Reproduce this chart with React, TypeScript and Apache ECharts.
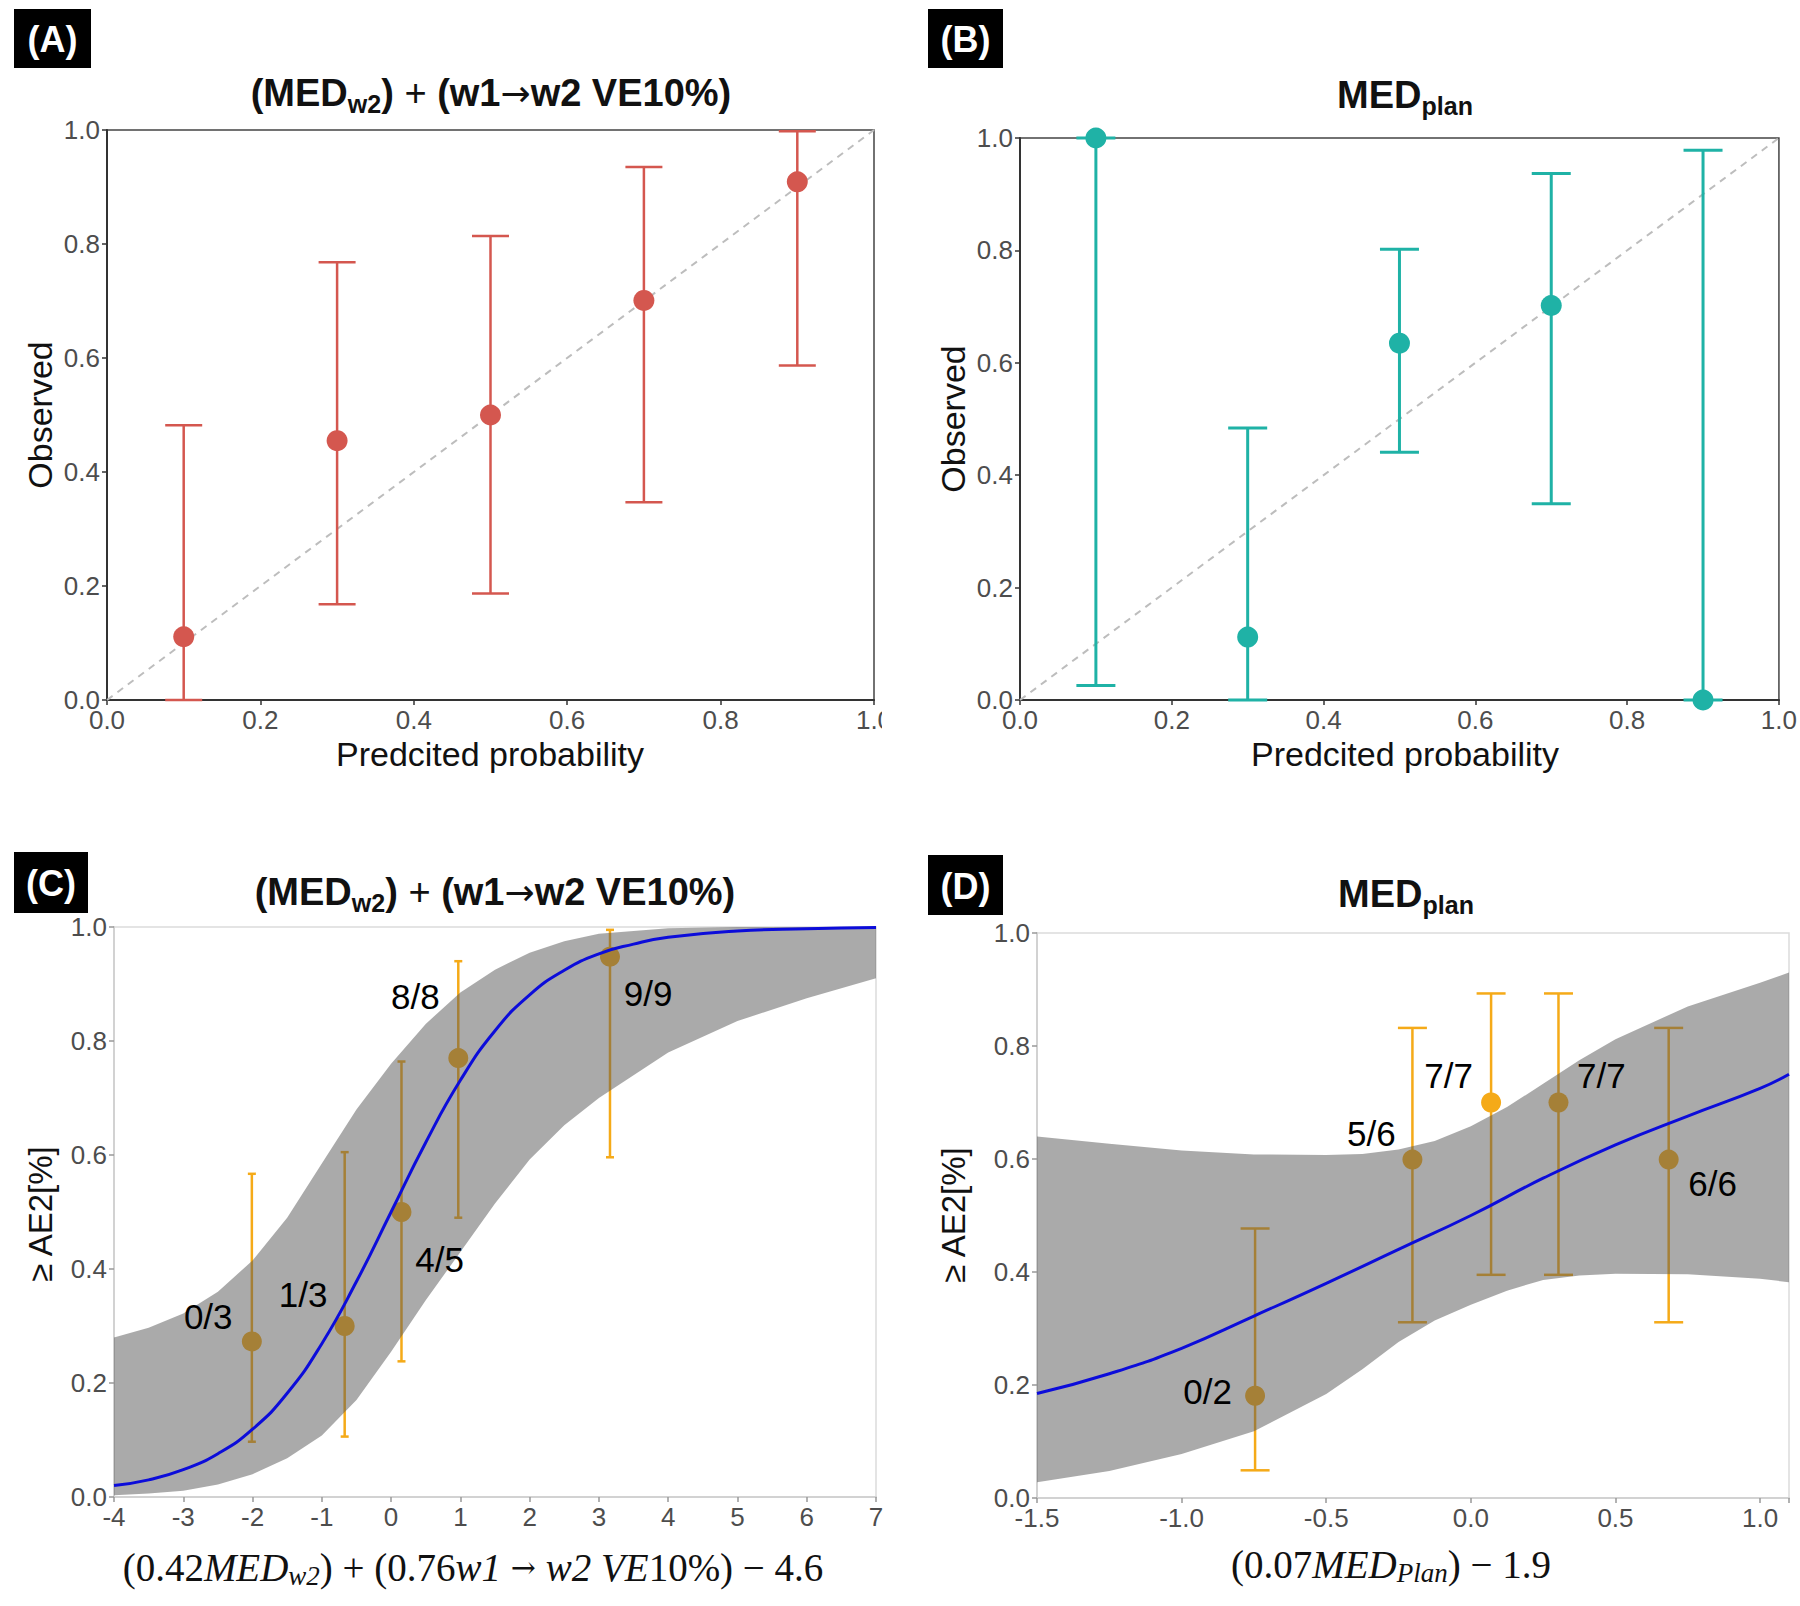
import React, { useEffect, useRef } from 'react';
import * as echarts from 'echarts';

// ---------- Panel A : calibration (MEDw2 + w1->w2 VE10%) ----------
const predA = [0.1, 0.3, 0.5, 0.7, 0.9];
const obsA = [0.111, 0.455, 0.5, 0.701, 0.909];
const loA = [0.0, 0.168, 0.187, 0.347, 0.587];
const hiA = [0.482, 0.768, 0.814, 0.935, 0.998];

// ---------- Panel B : calibration (MEDplan) ----------
const predB = [0.1, 0.3, 0.5, 0.7, 0.9];
const obsB = [1.0, 0.112, 0.635, 0.702, 0.0];
const loB = [0.026, 0.0, 0.441, 0.349, 0.0];
const hiB = [1.0, 0.484, 0.802, 0.937, 0.978];

const diagX = [0, 1];
const diagY = [0, 1];

// ---------- Panel C : logistic fit ----------
const ptXC = [-2.01, -0.67, 0.15, 0.97, 3.16];
const ptYC = [0.273, 0.3, 0.5, 0.77, 0.948];
const ptLoC = [0.097, 0.106, 0.238, 0.49, 0.596];
const ptHiC = [0.567, 0.605, 0.764, 0.94, 0.995];
const lblC = ['0/3', '1/3', '4/5', '8/8', '9/9'];
const lblXC = [-2.64, -1.27, 0.7, 0.35, 3.71];
const lblYC = [0.317, 0.356, 0.417, 0.878, 0.884];

const curveXC = [-4, -3.5, -3, -2.5, -2, -1.5, -1, -0.5, 0, 0.5, 1, 1.5, 2, 2.5, 3, 3.5, 4, 5, 6, 7];
const curveYC = [0.02, 0.03, 0.048, 0.076, 0.119, 0.182, 0.269, 0.378, 0.5, 0.622, 0.731, 0.818, 0.881, 0.924, 0.953, 0.97, 0.982, 0.993, 0.997, 0.999];

const ribXC = [-4, -3.5, -3, -2.5, -2, -1.5, -1, -0.5, 0, 0.5, 1, 1.5, 2, 2.5, 3, 4, 5, 6, 7];
const ribHiC = [0.28, 0.297, 0.322, 0.36, 0.415, 0.49, 0.585, 0.68, 0.76, 0.83, 0.885, 0.925, 0.955, 0.975, 0.988, 0.998, 1.0, 1.0, 1.0];
const ribLoC = [0.003, 0.006, 0.011, 0.022, 0.04, 0.068, 0.108, 0.17, 0.255, 0.345, 0.43, 0.515, 0.592, 0.652, 0.7, 0.78, 0.835, 0.875, 0.91];

// ---------- Panel D : logistic fit ----------
const ptXD = [-0.746, -0.202, 0.07, 0.303, 0.684];
const ptYD = [0.181, 0.599, 0.7, 0.7, 0.599];
const ptLoD = [0.049, 0.311, 0.395, 0.395, 0.311];
const ptHiD = [0.477, 0.832, 0.893, 0.893, 0.832];
const lblD = ['0/2', '5/6', '7/7', '7/7', '6/6'];
const lblXD = [-0.91, -0.344, -0.077, 0.451, 0.836];
const lblYD = [0.188, 0.646, 0.747, 0.747, 0.556];

const curveXD = [-1.5, -1.25, -1.0, -0.75, -0.5, -0.25, 0, 0.25, 0.5, 0.75, 1.0, 1.1];
const curveYD = [0.185, 0.22, 0.265, 0.322, 0.38, 0.44, 0.5, 0.566, 0.625, 0.676, 0.725, 0.75];

const ribXD = [-1.5, -1.25, -1.0, -0.75, -0.5, -0.375, -0.25, -0.125, 0, 0.125, 0.25, 0.375, 0.5, 0.75, 1.0, 1.1];
const ribHiD = [0.64, 0.627, 0.615, 0.608, 0.607, 0.609, 0.617, 0.632, 0.658, 0.692, 0.733, 0.775, 0.812, 0.87, 0.912, 0.93];
const ribLoD = [0.028, 0.048, 0.078, 0.118, 0.184, 0.228, 0.276, 0.314, 0.342, 0.367, 0.386, 0.394, 0.397, 0.396, 0.388, 0.382];

const SANS = "'Liberation Sans', Arial, sans-serif";
const SERIF = "'Liberation Serif', 'Times New Roman', serif";
const RED = '#D4574F';
const TEAL = '#1FB2A6';
const ORANGE = '#F5AA18';
const BLUE = '#0C0CDA';
const RIBBON = 'rgba(85,85,85,0.5)';

function errorBars(ax: number, xs: number[], los: number[], his: number[], color: string, capW: number, lw: number, z: number) {
  return {
    type: 'custom',
    xAxisIndex: ax,
    yAxisIndex: ax,
    z,
    silent: true,
    data: xs.map((x, i) => [x, los[i], his[i]]),
    encode: { x: 0, y: [1, 2] },
    renderItem: (params: any, api: any) => {
      const x = api.value(0);
      const t = api.coord([x, api.value(2)]);
      const b = api.coord([x, api.value(1)]);
      const st = { stroke: color, lineWidth: lw };
      return {
        type: 'group',
        children: [
          { type: 'line', shape: { x1: t[0], y1: t[1], x2: b[0], y2: b[1] }, style: st },
          { type: 'line', shape: { x1: t[0] - capW / 2, y1: t[1], x2: t[0] + capW / 2, y2: t[1] }, style: st },
          { type: 'line', shape: { x1: b[0] - capW / 2, y1: b[1], x2: b[0] + capW / 2, y2: b[1] }, style: st },
        ],
      };
    },
  };
}

function ribbon(ax: number, xs: number[], los: number[], his: number[]) {
  return {
    type: 'custom',
    xAxisIndex: ax,
    yAxisIndex: ax,
    z: 3,
    silent: true,
    data: [[xs[0], los[0]]],
    encode: { x: 0, y: 1 },
    renderItem: (params: any, api: any) => {
      const pts: number[][] = [];
      xs.forEach((x, i) => pts.push(api.coord([x, his[i]])));
      for (let i = xs.length - 1; i >= 0; i--) pts.push(api.coord([xs[i], los[i]]));
      return { type: 'polygon', shape: { points: pts }, style: { fill: RIBBON } };
    },
  };
}

function countLabels(ax: number, xs: number[], ys: number[], names: string[]) {
  return {
    type: 'scatter',
    xAxisIndex: ax,
    yAxisIndex: ax,
    z: 6,
    silent: true,
    symbolSize: 1,
    itemStyle: { color: 'rgba(0,0,0,0)' },
    data: xs.map((x, i) => ({ value: [x, ys[i]], name: names[i] })),
    label: {
      show: true, position: 'inside', formatter: '{b}', color: '#000000', fontSize: 35,
      fontFamily: SANS, textBorderWidth: 0, opacity: 1,
    },
  };
}

function axis(grid: number, min: number, max: number, interval: number, dark: boolean, step: number, digits: number) {
  return {
    type: 'value',
    gridIndex: grid,
    min,
    max,
    interval,
    axisLine: { show: true, onZero: false, lineStyle: { color: dark ? '#333333' : '#d2d2d2', width: 2 } },
    axisTick: { show: true, length: 5, lineStyle: { color: dark ? '#333333' : '#999999', width: 1.5 } },
    splitLine: { show: false },
    axisLabel: {
      color: '#4d4d4d',
      fontSize: 26,
      fontFamily: SANS,
      margin: 7,
      formatter: (v: number) => (Math.abs(v / step - Math.round(v / step)) < 1e-6 ? v.toFixed(digits) : ''),
    },
  };
}

function titleRich(cx: number, cy: number, parts: string) {
  return {
    type: 'text',
    x: cx,
    y: cy,
    z: 100,
    style: {
      text: parts,
      align: 'center',
      verticalAlign: 'middle',
      rich: {
        m: { fontSize: 38, fontWeight: 'bold', fontFamily: SANS, fill: '#111', lineHeight: 46 },
        p: { fontSize: 38, fontWeight: 'normal', fontFamily: SANS, fill: '#111', lineHeight: 46 },
        a: { fontSize: 36, fontWeight: 'normal', fontFamily: "'DejaVu Sans', sans-serif", fill: '#111', lineHeight: 46 },
        s: { fontSize: 25, fontWeight: 'bold', fontFamily: SANS, fill: '#111', lineHeight: 18, verticalAlign: 'bottom' },
      },
    },
  };
}

function panelTag(x: number, y: number, w: number, h: number, t: string) {
  return [
    { type: 'rect', z: 100, shape: { x, y, width: w, height: h }, style: { fill: '#000' } },
    {
      type: 'text', z: 101, x: x + w / 2, y: y + h / 2 + 1,
      style: { text: t, fill: '#fff', fontSize: 36, fontWeight: 'bold', fontFamily: SANS, align: 'center', verticalAlign: 'middle' },
    },
  ];
}

function plainText(x: number, y: number, t: string, size: number, rot = 0) {
  return {
    type: 'text', z: 100, x, y, rotation: rot,
    style: { text: t, fill: '#111', fontSize: size, fontFamily: SANS, align: 'center', verticalAlign: 'middle' },
  };
}

function mathText(x: number, y: number, t: string) {
  return {
    type: 'text', z: 100, x, y,
    style: {
      text: t, align: 'center', verticalAlign: 'middle',
      rich: {
        n: { fontSize: 39, fontFamily: SERIF, fill: '#111', lineHeight: 44 },
        i: { fontSize: 39, fontFamily: SERIF, fontStyle: 'italic', fill: '#111', lineHeight: 44 },
        a: { fontSize: 30, fontFamily: "'DejaVu Serif', serif", fill: '#111', lineHeight: 44 },
        si: { fontSize: 27, fontFamily: SERIF, fontStyle: 'italic', fill: '#111', lineHeight: 16, verticalAlign: 'bottom' },
      },
    },
  };
}

export default function App() {
  const ref = useRef<HTMLDivElement>(null);
  useEffect(() => {
    document.body.style.margin = '0';
    if (!ref.current) return;
    const chart = echarts.init(ref.current, null, { renderer: 'svg' });
    const option: any = {
      animation: false,
      backgroundColor: '#ffffff',
      grid: [
        { left: 107, top: 130, width: 767, height: 570, show: true, borderColor: '#444', borderWidth: 1.5 },
        { left: 1020, top: 138, width: 770, height: 562, show: true, borderColor: '#444', borderWidth: 1.5 },
        { left: 114, top: 927, width: 762, height: 570, show: true, borderColor: '#dcdcdc', borderWidth: 1.5 },
        { left: 1037, top: 933, width: 752, height: 565, show: true, borderColor: '#dcdcdc', borderWidth: 1.5 },
      ],
      xAxis: [
        axis(0, 0, 1, 0.2, true, 0.2, 1),
        axis(1, 0, 1, 0.2, true, 0.2, 1),
        axis(2, -4, 7, 1, false, 1, 0),
        axis(3, -1.5, 1.1, 0.5, false, 0.5, 1),
      ],
      yAxis: [
        axis(0, 0, 1, 0.2, true, 0.2, 1),
        axis(1, 0, 1, 0.2, true, 0.2, 1),
        axis(2, 0, 1, 0.2, false, 0.2, 1),
        axis(3, 0, 1, 0.2, false, 0.2, 1),
      ],
      series: [
        // Panel A
        {
          type: 'line', xAxisIndex: 0, yAxisIndex: 0, z: 1, silent: true, symbol: 'none',
          data: diagX.map((x, i) => [x, diagY[i]]),
          lineStyle: { color: '#bdbdbd', width: 2, type: [7, 6] },
        },
        errorBars(0, predA, loA, hiA, RED, 37, 2.5, 2),
        {
          type: 'scatter', xAxisIndex: 0, yAxisIndex: 0, z: 3, silent: true, symbolSize: 21,
          data: predA.map((x, i) => [x, obsA[i]]), itemStyle: { color: RED, opacity: 1 },
        },
        // Panel B
        {
          type: 'line', xAxisIndex: 1, yAxisIndex: 1, z: 1, silent: true, symbol: 'none',
          data: diagX.map((x, i) => [x, diagY[i]]),
          lineStyle: { color: '#bdbdbd', width: 2, type: [7, 6] },
        },
        errorBars(1, predB, loB, hiB, TEAL, 39, 3, 2),
        {
          type: 'scatter', xAxisIndex: 1, yAxisIndex: 1, z: 3, silent: true, symbolSize: 21, clip: true,
          data: predB.map((x, i) => [x, obsB[i]]), itemStyle: { color: TEAL, opacity: 1 },
        },
        // Panel C
        errorBars(2, ptXC, ptLoC, ptHiC, ORANGE, 8, 2.5, 2),
        {
          type: 'scatter', xAxisIndex: 2, yAxisIndex: 2, z: 2, silent: true, symbolSize: 20,
          data: ptXC.map((x, i) => [x, ptYC[i]]), itemStyle: { color: ORANGE, opacity: 1 },
        },
        ribbon(2, ribXC, ribLoC, ribHiC),
        {
          type: 'line', xAxisIndex: 2, yAxisIndex: 2, z: 4, silent: true, symbol: 'none', smooth: true,
          data: curveXC.map((x, i) => [x, curveYC[i]]), lineStyle: { color: BLUE, width: 3 },
        },
        countLabels(2, lblXC, lblYC, lblC),
        // Panel D
        errorBars(3, ptXD, ptLoD, ptHiD, ORANGE, 29, 2.5, 2),
        {
          type: 'scatter', xAxisIndex: 3, yAxisIndex: 3, z: 2, silent: true, symbolSize: 20,
          data: ptXD.map((x, i) => [x, ptYD[i]]), itemStyle: { color: ORANGE, opacity: 1 },
        },
        ribbon(3, ribXD, ribLoD, ribHiD),
        {
          type: 'line', xAxisIndex: 3, yAxisIndex: 3, z: 4, silent: true, symbol: 'none', smooth: true,
          data: curveXD.map((x, i) => [x, curveYD[i]]), lineStyle: { color: BLUE, width: 3 },
        },
        countLabels(3, lblXD, lblYD, lblD),
      ],
      graphic: [
        ...panelTag(14, 9, 77, 59, '(A)'),
        ...panelTag(928, 9, 75, 59, '(B)'),
        ...panelTag(14, 852, 74, 61, '(C)'),
        ...panelTag(928, 855, 75, 60, '(D)'),
        titleRich(491, 93, '{m|(MED}{s|w2}{m|)}{p| + }{m|(w1}{a|→}{m|w2 VE10%)}'),
        titleRich(1405, 95, '{m|MED}{s|plan}'),
        titleRich(495, 892, '{m|(MED}{s|w2}{m|)}{p| + }{m|(w1}{a|→}{m|w2 VE10%)}'),
        titleRich(1406, 894, '{m|MED}{s|plan}'),
        plainText(40, 415, 'Observed', 34, Math.PI / 2),
        plainText(490, 754, 'Predcited probability', 34),
        plainText(953, 419, 'Observed', 34, Math.PI / 2),
        plainText(1405, 754, 'Predcited probability', 34),
        plainText(40, 1214, '≥ AE2[%]', 33, Math.PI / 2),
        plainText(953, 1215, '≥ AE2[%]', 33, Math.PI / 2),
        mathText(473, 1567, '{n|(0.42}{i|MED}{si|w2}{n|) + (0.76}{i|w1 }{a|→}{i| w2 VE}{n|10%) − 4.6}'),
        mathText(1391, 1564, '{n|(0.07}{i|MED}{si|Plan}{n|) − 1.9}'),
        { type: 'rect', z: 120, shape: { x: 882, y: 704, width: 30, height: 36 }, style: { fill: '#fff' } },
      ],
    };
    chart.setOption(option);
    return () => chart.dispose();
  }, []);
  return <div ref={ref} style={{ width: 1800, height: 1606 }} />;
}
